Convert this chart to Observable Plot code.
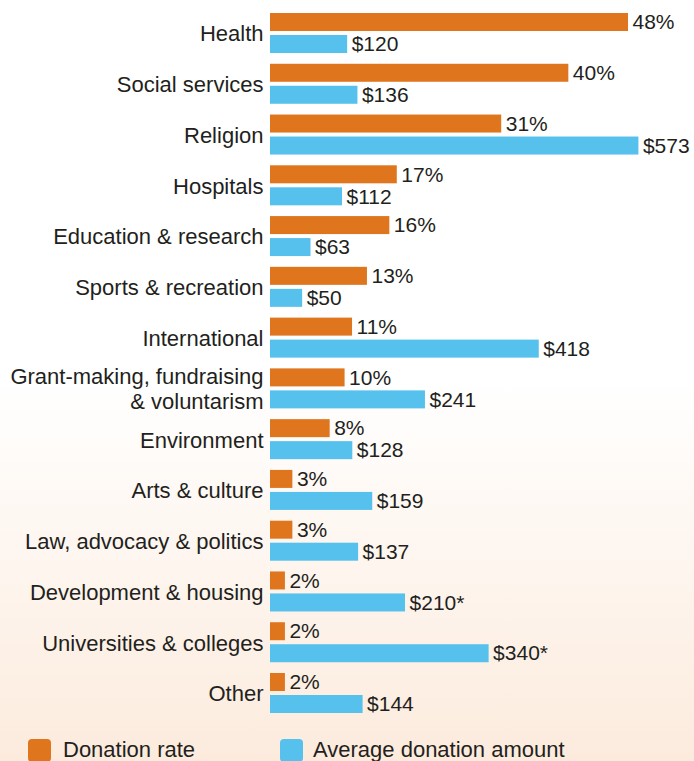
<!DOCTYPE html>
<html>
<head>
<meta charset="utf-8">
<script src="https://cdn.jsdelivr.net/npm/d3@7"></script>
<script src="https://cdn.jsdelivr.net/npm/@observablehq/plot@0.6"></script>
<style>
  html, body { margin: 0; padding: 0; }
  body {
    width: 694px; height: 761px; overflow: hidden; position: relative;
    background: linear-gradient(to bottom, #ffffff 0px, #ffffff 380px, #fcebdd 761px);
    font-family: "Liberation Sans", Arial, sans-serif; color: #231f20;
  }
  #chart { position: absolute; left: 0; top: 0; }
  .sw { position: absolute; width: 23px; height: 23px; border-radius: 4px; top: 739px; }
  .lt { position: absolute; top: 739px; font-size: 22px; line-height: 22px; white-space: nowrap; }
</style>
</head>
<body>
<div id="chart"></div>
<div class="sw" style="left:28px; background:#df761e;"></div>
<div class="lt" style="left:63px;">Donation rate</div>
<div class="sw" style="left:280px; background:#55c1ec;"></div>
<div class="lt" style="left:313px;">Average donation amount</div>
<script>
const categories = [
  "Health",
  "Social services",
  "Religion",
  "Hospitals",
  "Education & research",
  "Sports & recreation",
  "International",
  "Grant-making, fundraising\n& voluntarism",
  "Environment",
  "Arts & culture",
  "Law, advocacy & politics",
  "Development & housing",
  "Universities & colleges",
  "Other"
];
const donationRate = [48, 40, 31, 17, 16, 13, 11, 10, 8, 3, 3, 2, 2, 2];
const averageAmount = [120, 136, 573, 112, 63, 50, 418, 241, 128, 159, 137, 210, 340, 144];
const amountNote = ["", "", "", "", "", "", "", "", "", "", "", "*", "*", ""];
const seriesNames = ["rate", "amount"];
const seriesColors = ["#df761e", "#55c1ec"];

// Both series share one horizontal axis: $11.6 of average donation spans
// the same length as one percentage point of donation rate.
const dollarsPerPoint = 11.6;

const rows = [];
categories.forEach((c, i) => {
  rows.push({cat: c, series: "rate", v: donationRate[i], label: donationRate[i] + "%"});
  rows.push({cat: c, series: "amount", v: averageAmount[i] / dollarsPerPoint, label: "$" + averageAmount[i] + amountNote[i]});
});

const chart = Plot.plot({
  width: 694,
  height: 725,
  marginLeft: 270,
  marginRight: 0,
  marginTop: 13,
  marginBottom: 12,
  style: {fontFamily: "'Liberation Sans', Arial, sans-serif", background: "transparent", color: "#231f20", overflow: "visible"},
  x: {domain: [0, 48], range: [270, 628], axis: null},
  fy: {domain: categories, paddingInner: 0.212, paddingOuter: 0, round: false, label: null},
  y: {domain: seriesNames, paddingInner: 0.1818, paddingOuter: 0, round: false, axis: null},
  color: {domain: seriesNames, range: seriesColors},
  marks: [
    Plot.axisFy({anchor: "left", tickSize: 0, tickPadding: 7, fontSize: 22, lineHeight: 1.12, label: null, fill: "#231f20"}),
    Plot.barX(rows, {fy: "cat", y: "series", x: "v", fill: "series"}),
    Plot.text(rows, {fy: "cat", y: "series", x: "v", text: "label", textAnchor: "start", dx: 4, fontSize: 21, fill: "#231f20"})
  ]
});
document.getElementById("chart").appendChild(chart);
</script>
</body>
</html>
